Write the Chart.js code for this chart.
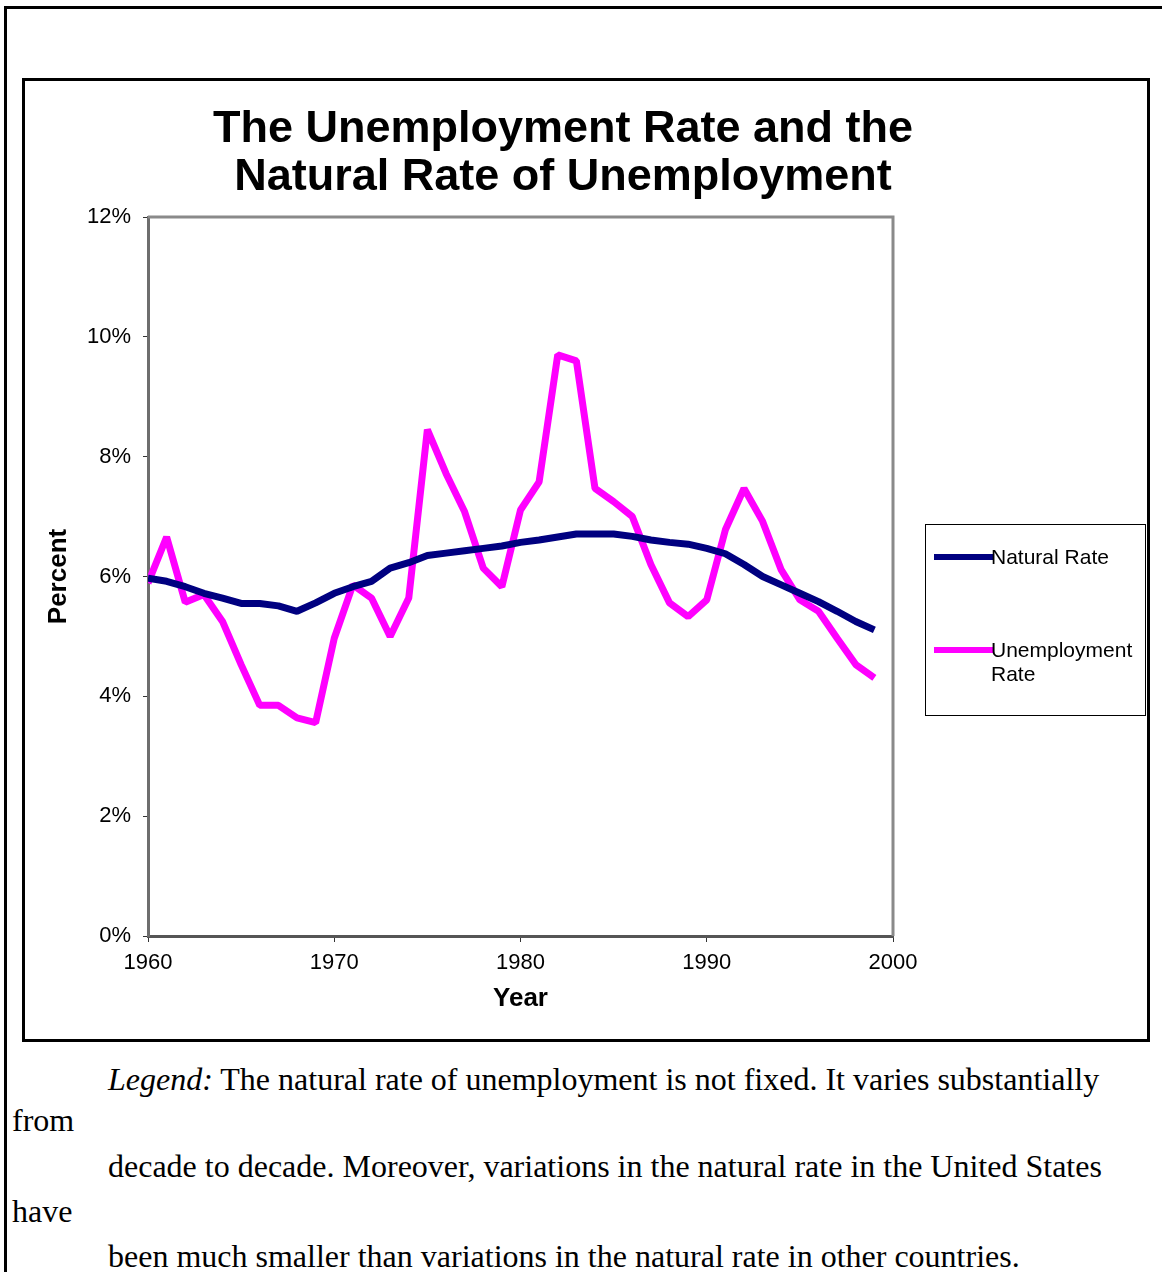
<!DOCTYPE html>
<html>
<head>
<meta charset="utf-8">
<script src="https://cdn.jsdelivr.net/npm/chart.js@4.4.0/dist/chart.umd.min.js"></script>
<style>
  body { margin: 0; background: #fff; width: 1162px; height: 1272px; position: relative; overflow: hidden; }
  #frame { position: absolute; left: 4px; top: 6px; right: -10px; bottom: -10px; border-left: 3px solid #000; border-top: 3px solid #000; }
  #box { position: absolute; left: 22px; top: 78px; width: 1122px; height: 958px; border: 3px solid #000; }
  #wrap { position: absolute; left: 25px; top: 81px; width: 1076px; height: 958px; }
  #legend { position: absolute; left: 925px; top: 524px; width: 219px; height: 190px; border: 1px solid #000; font-family: Arial, "Liberation Sans", sans-serif; font-size: 21px; color: #000; }
  .item { position: absolute; left: 8px; }
  .swatch { position: absolute; left: 0; width: 60px; height: 6px; }
  .label { position: absolute; left: 57px; line-height: 24px; white-space: nowrap; }
  .txt { position: absolute; font-family: "Times New Roman", "Liberation Serif", serif; font-size: 32px; color: #000; white-space: nowrap; line-height: 36px; }
</style>
</head>
<body>
<div id="frame"></div>
<div id="box"></div>
<div id="wrap"><canvas id="myChart"></canvas></div>
<div id="legend"></div>

<div class="txt" style="left:108px; top:1061px;"><i>Legend:</i> The natural rate of unemployment is not fixed. It varies substantially</div>
<div class="txt" style="left:12px; top:1102px;">from</div>
<div class="txt" style="left:108px; top:1148px;">decade to decade. Moreover, variations in the natural rate in the United States</div>
<div class="txt" style="left:12px; top:1193px;">have</div>
<div class="txt" style="left:108px; top:1238px;">been much smaller than variations in the natural rate in other countries.</div>

<script>
const years = [1960, 1961, 1962, 1963, 1964, 1965, 1966, 1967, 1968, 1969,
               1970, 1971, 1972, 1973, 1974, 1975, 1976, 1977, 1978, 1979,
               1980, 1981, 1982, 1983, 1984, 1985, 1986, 1987, 1988, 1989,
               1990, 1991, 1992, 1993, 1994, 1995, 1996, 1997, 1998, 1999];
const naturalRate = [5.97, 5.92, 5.83, 5.72, 5.64, 5.55, 5.55, 5.51, 5.42, 5.56,
                     5.72, 5.83, 5.92, 6.14, 6.23, 6.35, 6.39, 6.43, 6.47, 6.51,
                     6.57, 6.61, 6.66, 6.71, 6.71, 6.71, 6.67, 6.61, 6.57, 6.54,
                     6.47, 6.38, 6.20, 6.00, 5.86, 5.72, 5.58, 5.42, 5.25, 5.11];
const unemploymentRate = [5.89, 6.66, 5.57, 5.70, 5.25, 4.53, 3.85, 3.85, 3.64, 3.56,
                          4.97, 5.86, 5.64, 5.00, 5.64, 8.45, 7.72, 7.08, 6.14, 5.83,
                          7.11, 7.58, 9.70, 9.60, 7.47, 7.25, 7.00, 6.20, 5.56, 5.33,
                          5.61, 6.78, 7.47, 6.92, 6.11, 5.61, 5.42, 4.97, 4.53, 4.31];
const seriesNames = ['Natural Rate', 'Unemployment\nRate'];
const yTicks = [0, 2, 4, 6, 8, 10, 12];
const xTicks = [1960, 1970, 1980, 1990, 2000];

const toPoints = (vals) => years.map((yr, i) => ({ x: yr, y: vals[i] }));

// gray frame on top/right of the plot area
const plotFrame = {
    id: 'plotFrame',
    beforeDatasetsDraw(chart) {
        const a = chart.chartArea;
        const c = chart.ctx;
        c.save();
        c.strokeStyle = '#8a8a8a';
        c.lineWidth = 3;
        c.beginPath();
        c.moveTo(a.left, a.top);
        c.lineTo(a.right, a.top);
        c.lineTo(a.right, a.bottom);
        c.stroke();
        c.restore();
    }
};

const ctx = document.getElementById('myChart');
const chart = new Chart(ctx, {
    type: 'line',
    data: {
        datasets: [{
            label: seriesNames[0],
            data: toPoints(naturalRate),
            borderColor: '#000080',
            backgroundColor: '#000080',
            borderWidth: 7,
            borderJoinStyle: 'bevel',
            pointRadius: 0,
            tension: 0
        }, {
            label: seriesNames[1],
            data: toPoints(unemploymentRate),
            borderColor: '#ff00ff',
            backgroundColor: '#ff00ff',
            borderWidth: 7,
            borderJoinStyle: 'bevel',
            pointRadius: 0,
            tension: 0
        }]
    },
    options: {
        responsive: true,
        maintainAspectRatio: false,
        animation: false,
        layout: { padding: 0 },
        plugins: {
            legend: { display: false },
            tooltip: { enabled: false },
            title: {
                display: true,
                text: ['The Unemployment Rate and the', 'Natural Rate of Unemployment'],
                color: '#000',
                font: { family: 'Arial, "Liberation Sans", sans-serif', size: 45, weight: 'bold', lineHeight: 1.067 },
                padding: { top: 25, bottom: 15 }
            }
        },
        scales: {
            x: {
                type: 'linear',
                min: 1960,
                max: 2000,
                afterBuildTicks: (s) => { s.ticks = xTicks.map(v => ({ value: v })); },
                afterFit: (s) => { s.height = 103; },
                ticks: {
                    color: '#000',
                    padding: 8,
                    maxRotation: 0,
                    font: { family: 'Arial, "Liberation Sans", sans-serif', size: 22 },
                    callback: (v) => String(v)
                },
                grid: { drawOnChartArea: false, tickLength: 6, color: '#333' },
                border: { color: '#555', width: 3 },
                title: {
                    display: true,
                    text: 'Year',
                    color: '#000',
                    font: { family: 'Arial, "Liberation Sans", sans-serif', size: 26, weight: 'bold', lineHeight: 1.2 },
                    padding: { top: 0, bottom: 25 }
                }
            },
            y: {
                min: 0,
                max: 12,
                afterBuildTicks: (s) => { s.ticks = yTicks.map(v => ({ value: v })); },
                afterFit: (s) => { s.width = 123; },
                ticks: {
                    color: '#000',
                    padding: 12,
                    font: { family: 'Arial, "Liberation Sans", sans-serif', size: 22 },
                    callback: (v) => v + '%'
                },
                grid: { drawOnChartArea: false, tickLength: 5, color: '#333' },
                border: { color: '#6e6e6e', width: 3 },
                title: {
                    display: true,
                    text: 'Percent',
                    color: '#000',
                    font: { family: 'Arial, "Liberation Sans", sans-serif', size: 26, weight: 'bold', lineHeight: 1.2 },
                    padding: { top: 18, bottom: 0 }
                }
            },
            // empty right-hand box that reserves room for the legend
            yRight: {
                position: 'right',
                min: 0,
                max: 12,
                afterFit: (s) => { s.width = 208; },
                ticks: { display: false },
                grid: { display: false },
                border: { display: false }
            }
        }
    },
    plugins: [plotFrame]
});

// legend box built from the datasets
const legendEl = document.getElementById('legend');
const itemTops = [26, 119];
chart.data.datasets.forEach((ds, i) => {
    const item = document.createElement('div');
    item.className = 'item';
    item.style.top = itemTops[i] + 'px';
    const sw = document.createElement('div');
    sw.className = 'swatch';
    sw.style.top = '3px';
    sw.style.background = ds.borderColor;
    const lab = document.createElement('div');
    lab.className = 'label';
    lab.style.top = '-6px';
    lab.innerHTML = ds.label.split('\n').join('<br>');
    item.appendChild(sw);
    item.appendChild(lab);
    legendEl.appendChild(item);
});
</script>
</body>
</html>
